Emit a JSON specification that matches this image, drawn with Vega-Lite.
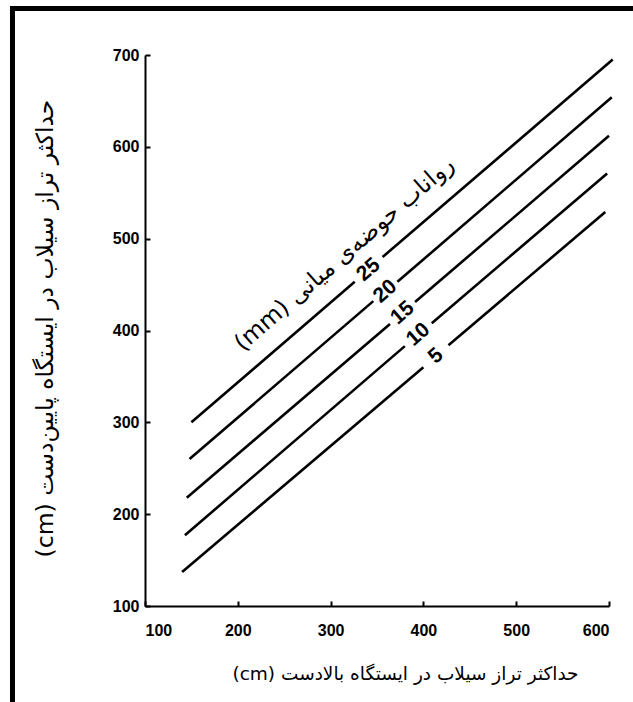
{
  "$schema": "https://vega.github.io/schema/vega-lite/v6.json",
  "autosize": {"type": "none"},
  "width": 464,
  "height": 551,
  "padding": {"left": 145, "top": 55, "right": 24, "bottom": 96},
  "background": "white",
  "config": {
    "view": {"stroke": null},
    "axis": {
      "domainColor": "black", "domainWidth": 2,
      "tickColor": "black", "tickWidth": 2, "tickSize": -5,
      "grid": false,
      "labelFont": "Liberation Sans, Arial, sans-serif",
      "labelFontWeight": "bold", "labelFontSize": 16, "labelColor": "black",
      "titleFont": "DejaVu Sans, sans-serif", "titleFontWeight": "normal",
      "titleColor": "black"
    }
  },
  "datasets": {
    "lines": [
      {"runoff": 25, "seg": "a", "x": 150, "y": 300},
      {"runoff": 25, "seg": "a", "x": 326, "y": 453},
      {"runoff": 25, "seg": "b", "x": 356, "y": 480},
      {"runoff": 25, "seg": "b", "x": 604, "y": 695},
      {"runoff": 20, "seg": "a", "x": 148, "y": 260},
      {"runoff": 20, "seg": "a", "x": 346, "y": 432},
      {"runoff": 20, "seg": "b", "x": 372, "y": 453},
      {"runoff": 20, "seg": "b", "x": 603, "y": 654},
      {"runoff": 15, "seg": "a", "x": 145, "y": 218},
      {"runoff": 15, "seg": "a", "x": 364, "y": 407},
      {"runoff": 15, "seg": "b", "x": 391, "y": 431},
      {"runoff": 15, "seg": "b", "x": 600, "y": 612},
      {"runoff": 10, "seg": "a", "x": 143, "y": 177},
      {"runoff": 10, "seg": "a", "x": 380, "y": 383},
      {"runoff": 10, "seg": "b", "x": 409, "y": 408},
      {"runoff": 10, "seg": "b", "x": 598, "y": 571},
      {"runoff": 5, "seg": "a", "x": 140, "y": 137},
      {"runoff": 5, "seg": "a", "x": 400, "y": 360},
      {"runoff": 5, "seg": "b", "x": 427, "y": 384},
      {"runoff": 5, "seg": "b", "x": 596, "y": 529}
    ],
    "labels": [
      {"runoff": 25, "x": 341, "y": 466},
      {"runoff": 20, "x": 359, "y": 442.5},
      {"runoff": 15, "x": 377.5, "y": 419},
      {"runoff": 10, "x": 394.5, "y": 395.5},
      {"runoff": 5, "x": 413.5, "y": 372}
    ],
    "note": [
      {"text": "(mm) رواناب حوضه‌ی میانی", "x": 315, "y": 483}
    ],
    "frame": [{"part": "border"}]
  },
  "layer": [
    {
      "data": {"name": "lines"},
      "mark": {"type": "line", "color": "black", "strokeWidth": 2.6},
      "encoding": {
        "x": {
          "field": "x", "type": "quantitative",
          "scale": {"domain": [100, 600], "nice": false, "zero": false},
          "axis": {
            "values": [100, 200, 300, 400, 500, 600],
            "labelPadding": 21,
            "title": "(cm) حداکثر تراز سیلاب در ایستگاه بالادست",
            "titleFontSize": 18.5,
            "titleX": 260, "titleY": 67, "titleBaseline": "middle"
          }
        },
        "y": {
          "field": "y", "type": "quantitative",
          "scale": {"domain": [100, 700], "nice": false, "zero": false},
          "axis": {
            "values": [100, 200, 300, 400, 500, 600, 700],
            "labelPadding": 11,
            "title": "(cm) حداکثر تراز سیلاب در ایستگاه پایین‌دست",
            "titleFontSize": 23.5,
            "titleX": -100, "titleY": 273, "titleBaseline": "middle", "titleAngle": -90
          }
        },
        "detail": [{"field": "runoff"}, {"field": "seg"}],
        "order": {"field": "x"}
      }
    },
    {
      "data": {"name": "labels"},
      "mark": {"type": "text", "font": "Liberation Sans, Arial, sans-serif", "fontWeight": "bold", "fontSize": 21, "angle": -41, "align": "center", "baseline": "middle", "color": "black"},
      "encoding": {
        "x": {"field": "x", "type": "quantitative"},
        "y": {"field": "y", "type": "quantitative"},
        "text": {"field": "runoff", "type": "quantitative"}
      }
    },
    {
      "data": {"name": "note"},
      "mark": {"type": "text", "font": "DejaVu Sans, sans-serif", "fontSize": 23.5, "angle": -41, "align": "center", "baseline": "middle", "color": "black"},
      "encoding": {
        "x": {"field": "x", "type": "quantitative"},
        "y": {"field": "y", "type": "quantitative"},
        "text": {"field": "text", "type": "nominal"}
      }
    },
    {
      "data": {"name": "frame"},
      "mark": {"type": "rule", "color": "black", "strokeWidth": 5},
      "encoding": {
        "x": {"datum": -42.8},
        "y": {"datum": 753.4},
        "y2": {"datum": -10}
      }
    },
    {
      "data": {"name": "frame"},
      "mark": {"type": "rule", "color": "black", "strokeWidth": 5},
      "encoding": {
        "y": {"datum": 750.6},
        "x": {"datum": -45.5},
        "x2": {"datum": 640}
      }
    }
  ]
}
